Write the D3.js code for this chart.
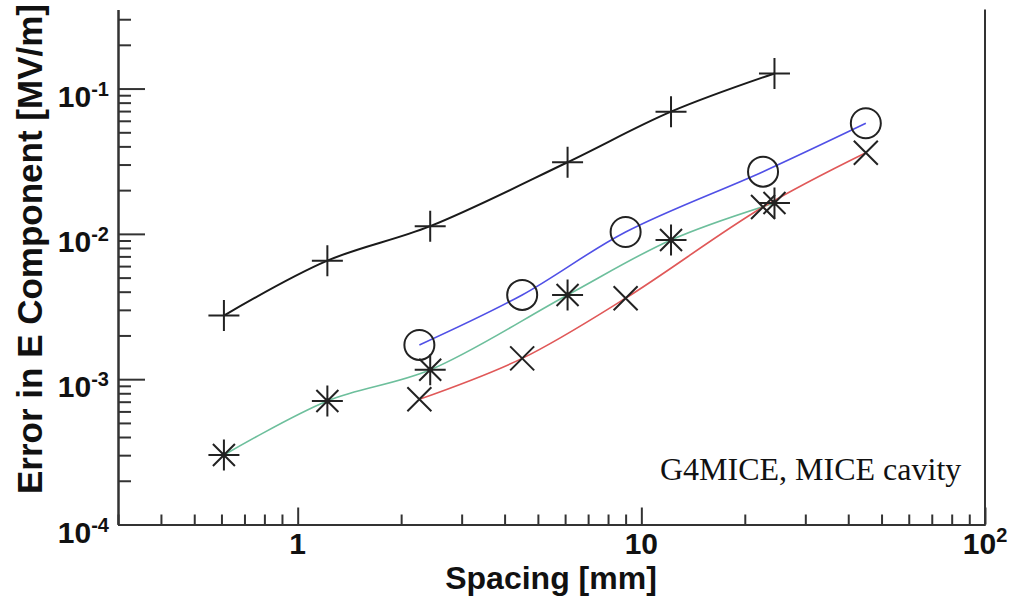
<!DOCTYPE html>
<html><head><meta charset="utf-8">
<script src="https://cdn.jsdelivr.net/npm/d3@7"></script>
<style>
html,body{margin:0;padding:0;background:#fff;}
svg{display:block;}
text{font-family:"Liberation Sans",Arial,sans-serif;font-weight:bold;fill:#111;}
</style></head>
<body>
<script>
// ---- data ----
const spacingA = [0.61, 1.22, 2.43, 6.1, 12.2, 24.4];   // black "+" and green asterisk
const spacingB = [2.26, 4.5, 9.0, 22.6, 45];            // blue circle and red cross
const errPlus     = [2.74e-3, 6.54e-3, 1.13e-2, 3.11e-2, 6.93e-2, 0.127];
const errAsterisk = [3.01e-4, 7.08e-4, 1.16e-3, 3.80e-3, 9.08e-3, 1.63e-2];
const errCircle   = [1.72e-3, 3.80e-3, 1.03e-2, 2.68e-2, 5.77e-2];
const errCross    = [7.27e-4, 1.39e-3, 3.61e-3, 1.53e-2, 3.62e-2];
const xMajorTicks = [1, 10, 100];
const xTickLabels = [["1",""],["10",""],["10","2"]];
const yMajorTicks = [1e-4, 1e-3, 1e-2, 1e-1];
const yTickLabels = [["10","-4"],["10","-3"],["10","-2"],["10","-1"]];
const xTitle = "Spacing [mm]";
const yTitle = "Error in E Component [MV/m]";
const annotation = "G4MICE, MICE cavity";

const W = 1009, H = 597;
const svg = d3.select("body").append("svg").attr("width", W).attr("height", H);

const x = d3.scaleLog().domain([0.3, 100]).range([118, 985]);
const y = d3.scaleLog().domain([1e-4, 0.35]).range([524.5, 9.5]);

const axisColor = "#333";

// minor ticks
const xMinor = x.ticks().filter(v => !xMajorTicks.some(m => Math.abs(m - v) / m < 1e-6));
const yMinor = y.ticks().filter(v => !yMajorTicks.some(m => Math.abs(m - v) / m < 1e-6));

function styleAxis(g){
  g.selectAll("path.domain").attr("stroke", axisColor).attr("stroke-width", 2);
  g.selectAll(".tick line").attr("stroke", axisColor).attr("stroke-width", 2);
  g.selectAll(".tick text").remove();
}

svg.append("g").attr("transform", `translate(0,${y.range()[0]})`)
  .call(d3.axisBottom(x).tickValues(xMinor).tickSize(-10).tickSizeOuter(0).tickFormat(""))
  .call(styleAxis);
svg.append("g").attr("transform", `translate(0,${y.range()[0]})`)
  .call(d3.axisBottom(x).tickValues(xMajorTicks).tickSize(-17).tickSizeOuter(0).tickFormat(""))
  .call(styleAxis);
svg.append("g").attr("transform", `translate(${x.range()[0]},0)`)
  .call(d3.axisLeft(y).tickValues(yMinor).tickSize(-13).tickSizeOuter(0).tickFormat(""))
  .call(styleAxis);
svg.append("g").attr("transform", `translate(${x.range()[0]},0)`)
  .call(d3.axisLeft(y).tickValues(yMajorTicks).tickSize(-27).tickSizeOuter(0).tickFormat(""))
  .call(styleAxis);

// right frame
svg.append("line")
  .attr("x1", x.range()[1]).attr("x2", x.range()[1])
  .attr("y1", y.range()[1]).attr("y2", y.range()[0])
  .attr("stroke", axisColor).attr("stroke-width", 2);

// tick labels
const labFs = 30, supFs = 20;
xMajorTicks.forEach((v, i) => {
  const t = svg.append("text")
    .attr("x", x(v)).attr("y", y.range()[0] + 29)
    .attr("text-anchor", "middle").style("font-size", labFs + "px");
  t.append("tspan").text(xTickLabels[i][0]);
  if (xTickLabels[i][1]) t.append("tspan").attr("dy", -12).style("font-size", supFs + "px").text(xTickLabels[i][1]);
});
yMajorTicks.forEach((v, i) => {
  const t = svg.append("text")
    .attr("x", 109).attr("y", y(v) + 18)
    .attr("text-anchor", "end").style("font-size", labFs + "px");
  t.append("tspan").text(yTickLabels[i][0]);
  t.append("tspan").attr("dy", -11).style("font-size", supFs + "px").text(yTickLabels[i][1]);
});

// axis titles
svg.append("text").attr("x", 551).attr("y", 589).attr("text-anchor", "middle")
  .style("font-size", "32px").text(xTitle);
svg.append("text").attr("transform", "translate(42,494) rotate(-90)")
  .attr("text-anchor", "start").style("font-size", "35px").text(yTitle);

// curves
const line = d3.line().x(d => x(d[0])).y(d => y(d[1])).curve(d3.curveCatmullRom.alpha(0.5));
const series = [
  {xs: spacingA, ys: errPlus,     color: "#1a1a1a", w: 2.0, marker: "plus"},
  {xs: spacingB, ys: errCircle,   color: "#5050e6", w: 1.6, marker: "circle"},
  {xs: spacingA, ys: errAsterisk, color: "#6dbf9c", w: 1.6, marker: "star"},
  {xs: spacingB, ys: errCross,    color: "#e05858", w: 1.6, marker: "cross"}
];
series.forEach(s => {
  const pts = s.xs.map((v, i) => [v, s.ys[i]]);
  svg.append("path").datum(pts).attr("d", line)
    .attr("fill", "none").attr("stroke", s.color).attr("stroke-width", s.w);
});

// markers
const mk = "#222";
series.forEach(s => {
  const pts = s.xs.map((v, i) => [v, s.ys[i]]);
  const g = svg.append("g").attr("stroke", mk).attr("stroke-width", 2).attr("fill", "none");
  pts.forEach(p => {
    const cx = x(p[0]), cy = y(p[1]);
    if (s.marker === "plus") {
      g.append("path").attr("d", `M${cx-15.5},${cy}H${cx+15.5}M${cx},${cy-15.5}V${cy+15.5}`);
    } else if (s.marker === "circle") {
      g.append("circle").attr("cx", cx).attr("cy", cy).attr("r", 15);
    } else if (s.marker === "star") {
      const r = 15.5, d = 11;
      g.append("path").attr("d",
        `M${cx-r},${cy}H${cx+r}M${cx},${cy-r}V${cy+r}M${cx-d},${cy-d}L${cx+d},${cy+d}M${cx-d},${cy+d}L${cx+d},${cy-d}`);
      g.append("circle").attr("cx", cx).attr("cy", cy).attr("r", 2.5).attr("fill", mk).attr("stroke", "none");
    } else {
      const d = 12;
      g.append("path").attr("d", `M${cx-d},${cy-d}L${cx+d},${cy+d}M${cx-d},${cy+d}L${cx+d},${cy-d}`);
    }
  });
});

// annotation
svg.append("text").attr("x", 660).attr("y", 480)
  .style("font-family", '"Liberation Serif","Times New Roman",serif')
  .style("font-weight", "normal").style("font-size", "32px").text(annotation);
</script>
</body></html>
